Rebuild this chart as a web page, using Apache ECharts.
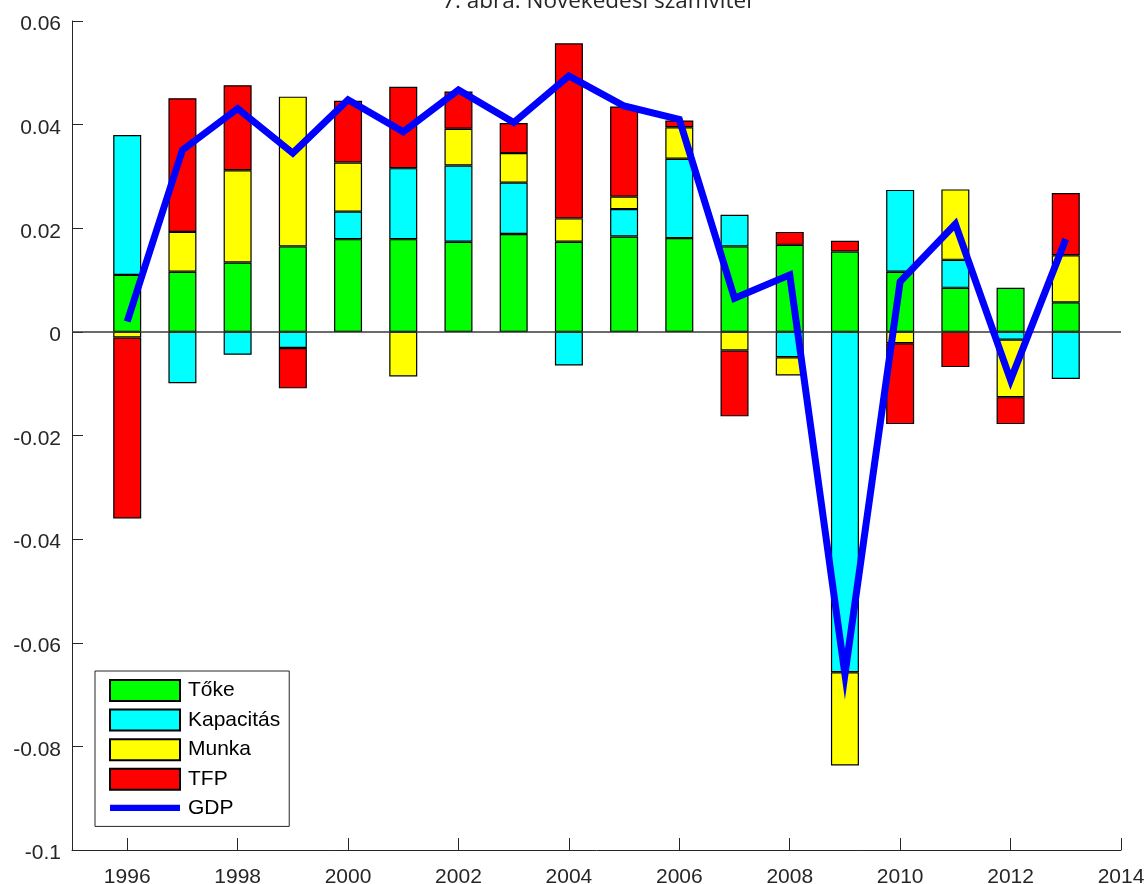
<!DOCTYPE html>
<html>
<head>
<meta charset="utf-8">
<title>7. ábra: Növekedési számvitel</title>
<script src="https://cdn.jsdelivr.net/npm/echarts@6/dist/echarts.min.js"></script>
<style>
  html, body { margin: 0; padding: 0; background: #fff; }
  #chart { width: 1146px; height: 884px; }
</style>
</head>
<body>
<div id="chart"></div>
<script>
// Growth accounting: contributions to GDP growth, 1996-2013
const years = [1996, 1997, 1998, 1999, 2000, 2001, 2002, 2003, 2004, 2005, 2006, 2007, 2008, 2009, 2010, 2011, 2012, 2013];
const toke      = [0.0110, 0.0116, 0.0134, 0.0165, 0.0179, 0.0179, 0.0174, 0.0189, 0.0174, 0.0184, 0.0181, 0.0165, 0.0168, 0.0155, 0.0116, 0.0085, 0.0085, 0.0057];
const kapacitas = [0.0270, -0.0099, -0.0044, -0.0031, 0.0053, 0.0137, 0.0147, 0.0099, -0.0065, 0.0053, 0.0153, 0.0061, -0.0049, -0.0657, 0.0158, 0.0054, -0.0015, -0.0091];
const munka     = [-0.0011, 0.0077, 0.0178, 0.0289, 0.0095, -0.0086, 0.0071, 0.0057, 0.0045, 0.0024, 0.0061, -0.0036, -0.0035, -0.0180, -0.0022, 0.0136, -0.0111, 0.0091];
const tfp       = [-0.0349, 0.0258, 0.0164, -0.0078, 0.0119, 0.0157, 0.0072, 0.0058, 0.0338, 0.0174, 0.0013, -0.0127, 0.0025, 0.0021, -0.0156, -0.0068, -0.0052, 0.0120];
const gdp       = [0.0020, 0.0351, 0.0431, 0.0345, 0.0448, 0.0386, 0.0467, 0.0404, 0.0494, 0.0436, 0.0410, 0.0065, 0.0110, -0.0661, 0.0097, 0.0208, -0.0093, 0.0179];
const xTickLabels = [1996, 1998, 2000, 2002, 2004, 2006, 2008, 2010, 2012, 2014];
const yMin = -0.1, yMax = 0.06, yStep = 0.02;

// Axis spans one year beyond the data on each side
const axisYears = [];
for (let y = years[0] - 1; y <= years[years.length - 1] + 1; y++) axisYears.push(String(y));
const pad = arr => [null].concat(arr, [null]);

const AXIS = '#262626';
const FONT = 'Liberation Sans, Arial, sans-serif';

const barSeries = [
  { name: 'Tőke', data: toke, color: '#00ff00' },
  { name: 'Kapacitás', data: kapacitas, color: '#00ffff' },
  { name: 'Munka', data: munka, color: '#ffff00' },
  { name: 'TFP', data: tfp, color: '#ff0000' }
].map((s, i) => {
  const o = {
    name: s.name,
    type: 'bar',
    stack: 'total',
    barWidth: 28,
    data: pad(s.data),
    itemStyle: { color: s.color, borderColor: '#000', borderWidth: 1.2 },
    emphasis: { disabled: true }
  };
  if (i === 0) {
    // horizontal baseline at zero
    o.markLine = {
      silent: true,
      symbol: ['none', 'none'],
      label: { show: false },
      lineStyle: { color: '#3a3a3a', width: 1.5, type: 'solid' },
      data: [{ yAxis: 0 }]
    };
  }
  return o;
});

const isTick = (idx, val) => xTickLabels.includes(Number(val));

const chart = echarts.init(document.getElementById('chart'), null, { renderer: 'canvas' });
chart.setOption({
  animation: false,
  backgroundColor: '#fff',
  title: {
    text: '7. ábra: Növekedési számvitel',
    left: 592,
    textAlign: 'center',
    top: -15,
    textStyle: { fontFamily: 'Open Sans, sans-serif', fontSize: 22.5, fontWeight: 'normal', color: '#262626' }
  },
  grid: { left: 72, right: 25, top: 21, bottom: 34, containLabel: false, outerBoundsMode: 'none' },
  legend: {
    orient: 'vertical',
    left: 95,
    top: 671,
    itemWidth: 70,
    itemHeight: 21,
    itemGap: 6.6,
    padding: [8, 9, 8, 14],
    borderColor: AXIS,
    borderWidth: 1,
    backgroundColor: '#fff',
    textStyle: { fontFamily: FONT, fontSize: 21, lineHeight: 21, color: '#000', padding: [0, 0, 0, 3] },
    data: [
      { name: 'Tőke', icon: 'rect' },
      { name: 'Kapacitás', icon: 'rect' },
      { name: 'Munka', icon: 'rect' },
      { name: 'TFP', icon: 'rect' },
      { name: 'GDP', icon: 'path://M0,0 L0,0 M0,7 L78,7 L78,14 L0,14 Z M0,21 L0,21', itemStyle: { color: '#0000ff', borderWidth: 0 } }
    ]
  },
  xAxis: {
    type: 'category',
    data: axisYears,
    boundaryGap: false,
    axisLine: { onZero: false, lineStyle: { color: AXIS, width: 1 } },
    axisTick: { inside: true, length: 12, interval: isTick, lineStyle: { color: AXIS } },
    axisLabel: { interval: isTick, margin: 17, fontFamily: FONT, fontSize: 21, color: AXIS },
    splitLine: { show: false }
  },
  yAxis: {
    type: 'value',
    min: yMin,
    max: yMax,
    interval: yStep,
    axisLine: { show: true, lineStyle: { color: AXIS, width: 1 } },
    axisTick: { show: true, inside: true, length: 11, lineStyle: { color: AXIS } },
    axisLabel: {
      margin: 11,
      formatter: v => '{t|' + String(Number(v.toFixed(2))) + '}',
      rich: { t: { padding: [7, 0, 0, 0], fontFamily: FONT, fontSize: 21, color: AXIS } },
      fontFamily: FONT, fontSize: 21, color: AXIS
    },
    splitLine: { show: false }
  },
  series: barSeries.concat([{
    name: 'GDP',
    type: 'line',
    data: pad(gdp),
    z: 6,
    symbol: 'none',
    showSymbol: false,
    color: '#0000ff',
    lineStyle: { color: '#0000ff', width: 7, join: 'miter', miterLimit: 10, cap: 'butt' },
    emphasis: { disabled: true }
  }])
});
</script>
</body>
</html>
